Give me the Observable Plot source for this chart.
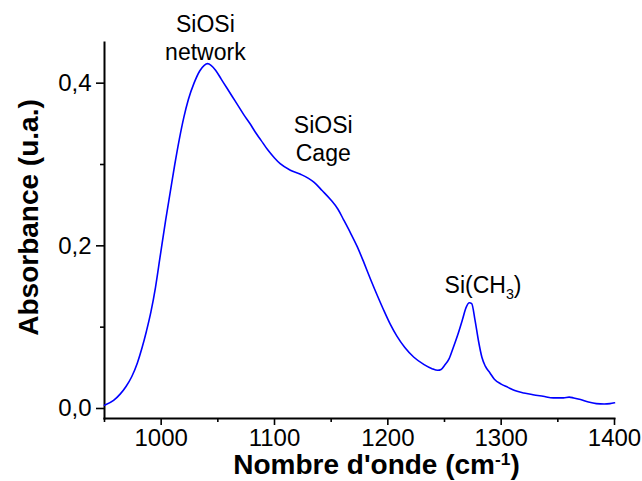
<!DOCTYPE html>
<html><head><meta charset="utf-8">
<script src="https://cdn.jsdelivr.net/npm/d3@7"></script>
<script src="https://cdn.jsdelivr.net/npm/@observablehq/plot@0.6"></script>
<style>
body{margin:0;background:#fff}
#chart svg{font-family:"Liberation Sans",Arial,Helvetica,sans-serif;display:block}
</style>
</head><body><div id="chart"></div>
<script>
const wavenumber = [950,958,964,969,974,979,983,987,991,995,999,1004,1008,1012,1016,1020,1024,1029,1034,1038,1041,1044,1048,1053,1058,1063,1068,1073,1078,1083,1088,1094,1100,1105,1114,1123,1130,1135,1142,1150,1156,1161,1167,1173,1179,1185,1191,1196,1202,1208,1215,1223,1232,1239,1244,1247,1250,1254,1258,1262,1266,1269,1272,1274,1277,1280,1283,1286,1290,1294,1300,1306,1312,1320,1328,1337,1346,1355,1360,1364,1370,1377,1384,1391,1396,1400];
const absorbance = [0.004,0.010,0.018,0.027,0.039,0.056,0.074,0.095,0.119,0.149,0.186,0.232,0.266,0.300,0.331,0.358,0.380,0.400,0.415,0.422,0.424,0.422,0.416,0.405,0.394,0.383,0.372,0.361,0.351,0.340,0.330,0.318,0.308,0.301,0.293,0.288,0.283,0.278,0.268,0.256,0.245,0.232,0.216,0.199,0.179,0.158,0.138,0.122,0.104,0.089,0.075,0.063,0.054,0.049,0.047,0.048,0.053,0.061,0.076,0.092,0.110,0.124,0.130,0.129,0.108,0.083,0.063,0.052,0.044,0.036,0.030,0.026,0.022,0.019,0.017,0.015,0.013,0.013,0.014,0.013,0.011,0.008,0.006,0.0055,0.006,0.007];
const xMajorTicks = [1000,1100,1200,1300,1400];
const xMinorTicks = [950,1050,1150,1250,1350];
const yMajorTicks = [0,0.2,0.4];
const yMinorTicks = [0.1,0.3];
const peakLabels = ["SiOSi\nnetwork","SiOSi\nCage","Si(CH3)"];
const peakLabelWavenumber = [1039,1143,1284];
const peakLabelAbsorbance = [0.457,0.333,0.153];
const xTitle = "Nombre d'onde (cm-1)";
const yTitle = "Absorbance (u.a.)";

const spectrum = wavenumber.map((w, i) => ({w, a: absorbance[i]}));
const labels = peakLabels.map((t, i) => ({t, w: peakLabelWavenumber[i], a: peakLabelAbsorbance[i]}));
const fmt = d => d3.format(".1f")(d).replace(".", ",");

const plot = Plot.plot({
  width: 642, height: 481,
  marginLeft: 104, marginRight: 28, marginTop: 42, marginBottom: 63,
  style: {fontFamily: '"Liberation Sans",Arial,sans-serif', fontSize: "23px", color: "#000", background: "#fff", overflow: "visible"},
  x: {domain: [950, 1400]},
  y: {domain: [-0.0123, 0.45]},
  marks: [
    Plot.frame({anchor: "left", stroke: "#000", strokeWidth: 2}),
    Plot.frame({anchor: "bottom", stroke: "#000", strokeWidth: 2}),
    Plot.axisX({ticks: xMajorTicks, tickSize: 7, tickPadding: 3, fontSize: 24, tickFormat: d => String(d), label: null, strokeWidth: 1.6}),
    Plot.axisX({ticks: xMinorTicks, tickSize: 4, tickFormat: () => "", label: null, strokeWidth: 1.6}),
    Plot.axisY({ticks: yMajorTicks, tickSize: 8, tickPadding: 5, fontSize: 24, tickFormat: fmt, label: null, strokeWidth: 1.6}),
    Plot.axisY({ticks: yMinorTicks, tickSize: 4, tickFormat: () => "", label: null, strokeWidth: 1.6}),
    Plot.line(spectrum, {x: "w", y: "a", stroke: "#0000ff", strokeWidth: 1.6, curve: "monotone-x"}),
    Plot.text(labels, {x: "w", y: "a", text: "t", fontSize: 23, lineHeight: 1.22, fill: "#000"}),
    Plot.text([xTitle], {frameAnchor: "bottom", textAnchor: "middle", lineAnchor: "middle", dx: 17, dy: 47, fontSize: 28, fontWeight: "bold", fill: "#000"}),
    Plot.text([yTitle], {frameAnchor: "left", textAnchor: "middle", lineAnchor: "middle", dx: -75, dy: -13, rotate: -90, fontSize: 28, fontWeight: "bold", fill: "#000"})
  ]
});

function rich(t, before, small, after, shift) {
  t.textContent = before;
  const s = document.createElementNS("http://www.w3.org/2000/svg", "tspan");
  s.setAttribute("dy", shift + "em");
  s.setAttribute("font-size", "0.62em");
  s.textContent = small;
  t.appendChild(s);
  const a = document.createElementNS("http://www.w3.org/2000/svg", "tspan");
  a.setAttribute("dy", (-shift * 0.62) + "em");
  a.textContent = after;
  t.appendChild(a);
}
for (const t of plot.querySelectorAll("text")) {
  if (t.textContent === "Si(CH3)") rich(t, "Si(CH", "3", ")", 0.45);
  else if (t.textContent === xTitle) rich(t, "Nombre d'onde (cm", "-1", ")", -0.55);
}
document.getElementById("chart").appendChild(plot);
</script>
</body></html>
